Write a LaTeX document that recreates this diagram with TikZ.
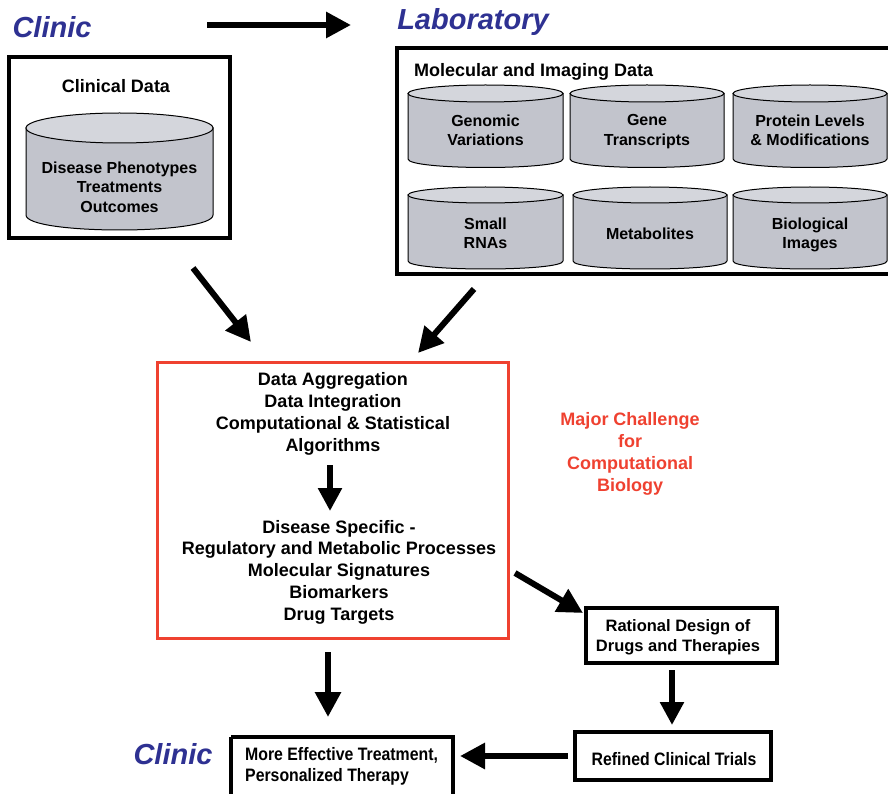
\documentclass[tikz,border=0pt]{standalone}
\usepackage{fontspec}
\setmainfont{Liberation Sans}
\newfontfamily\narrowfont[FakeStretch=0.88]{Liberation Sans}
\usetikzlibrary{arrows.meta}
\definecolor{clinblue}{HTML}{2E3192}
\definecolor{chalred}{HTML}{EF4130}
\definecolor{cylbody}{HTML}{C2C4CC}
\definecolor{cyltop}{HTML}{D4D6DC}
% cylinder: name, x1, x2, top-centre y, bottom-centre y, radius, text y, text
\newcommand{\dbcyl}[8]{%
  \draw[cylline, fill=cylbody] (#2,#4) -- (#2,#5)
    .. controls (#2,{#5+1.333*#6}) and (#3,{#5+1.333*#6}) .. (#3,#5) -- (#3,#4) -- cycle;
  \draw[cylline, fill=cyltop] ({(#2+#3)/2},#4) ellipse [x radius={(#3-#2)/2}, y radius=#6];
  \node[cyltext] (#1) at ({(#2+#3)/2},#7) {#8};
}
\begin{document}
\begin{tikzpicture}[x=1pt,y=-1pt,
  cylline/.style={draw=black, line width=1pt},
  cyltext/.style={font=\fontsize{16}{19.5}\selectfont\bfseries, align=center, inner sep=0pt},
  place/.style={font=\fontsize{29}{34}\selectfont\bfseries\itshape, text=clinblue, inner sep=0pt},
  title/.style={font=\fontsize{18}{22}\selectfont\bfseries, inner sep=0pt},
  redtext/.style={font=\fontsize{18}{21.8}\selectfont\bfseries, align=center, inner sep=0pt},
  boxtext/.style={font=\fontsize{16.5}{20}\selectfont\bfseries, align=center, inner sep=0pt},
  narrowtext/.style={font=\fontsize{18}{21}\selectfont\narrowfont\bfseries, align=left, inner sep=0pt},
  frame/.style={draw=black, line width=3.5pt, inner sep=0pt},
  bigarrow/.style={line width=6pt, -{Triangle[length=25pt,width=25pt]}}
]
\useasboundingbox (0,0) rectangle (888,794);

% places
\node[place] (clinictop) at (52,27) {Clinic};
\node[place] (lab) at (473,22) {Laboratory};
\node[place] (clinicbot) at (173,754) {Clinic};

% clinical data box
\draw[frame] (9,57) rectangle (230,238);
\node[title] (clintitle) at (116,86) {Clinical Data};
\dbcyl{clincyl}{26}{213}{128}{215}{15}{187}{Disease Phenotypes\\Treatments\\Outcomes}
\coordinate (clinbox) at (119.5,147.5);

% laboratory box
\draw[frame] (397,48) rectangle (895,274);
\node[title, anchor=west] (labtitle) at (414,72) {Molecular and Imaging Data};
\coordinate (labbox) at (642,161);
\dbcyl{genomic}{408}{563}{93.5}{159}{8.5}{130.5}{Genomic\\Variations}
\dbcyl{gene}{570}{724}{93.5}{159}{8.5}{131.5}{Gene\\Transcripts}
\dbcyl{protein}{733}{887}{93.5}{159}{8.5}{130.5}{Protein Levels\\\& Modifications}
\dbcyl{small}{408}{563}{195}{261}{8}{233.5}{Small\\RNAs}
\dbcyl{metab}{573}{727}{195}{261}{8}{234}{Metabolites}
\dbcyl{bioimg}{733}{887}{195}{261}{8}{235}{Biological\\Images}

% central red box
\draw[draw=chalred, line width=3pt] (157,362) rectangle (508,638);
\node[redtext] (integ) at (333,414) {Data Aggregation\\Data Integration\\Computational \& Statistical\\Algorithms};
\node[redtext] (results) at (339,572) {Disease Specific -\\Regulatory and Metabolic Processes\\Molecular Signatures\\Biomarkers\\Drug Targets};
\node[redtext, text=chalred] (challenge) at (630,454) {Major Challenge\\for\\Computational\\Biology};

% rational design box
\node[frame, minimum width=191pt, minimum height=55pt] (rational) at (681.5,635.5) {};
\node[boxtext] (rationaltext) at (678,637) {Rational Design of\\Drugs and Therapies};

% refined trials box
\node[frame, minimum width=196pt, minimum height=48pt] (refined) at (673,756) {};
\node[narrowtext] (refinedtext) at (674,759) {Refined Clinical Trials};

% more effective box
\draw[frame] (231,737) -- (231,800) (453,800) -- (453,737) -- (231,737);
\node[narrowtext, anchor=north west] (effective) at (245,747) {More Effective Treatment,\\Personalized Therapy};

% arrow end points
\coordinate (a1s) at (207,25);   \coordinate (a1e) at (351,25);
\coordinate (a2s) at (193,268);  \coordinate (a2e) at (251,342);
\coordinate (a3s) at (474,289);  \coordinate (a3e) at (418,353);
\coordinate (a4s) at (330,465);  \coordinate (a4e) at (330,511);
\coordinate (a5s) at (515,573);  \coordinate (a5e) at (583,613);
\coordinate (a6s) at (672,670);  \coordinate (a6e) at (672,725);
\coordinate (a7s) at (568,756);  \coordinate (a7e) at (460,756);
\coordinate (a8s) at (328,652);  \coordinate (a8e) at (328,717);

\draw[bigarrow] (a1s) -- (a1e);
\draw[bigarrow] (a2s) -- (a2e);
\draw[bigarrow] (a3s) -- (a3e);
\draw[line width=5.5pt, -{Triangle[length=23pt,width=23pt]}] (a4s) -- (a4e);
\draw[bigarrow] (a5s) -- (a5e);
\draw[line width=5.5pt, -{Triangle[length=23pt,width=23pt]}] (a6s) -- (a6e);
\draw[bigarrow] (a7s) -- (a7e);
\draw[bigarrow] (a8s) -- (a8e);
\end{tikzpicture}
\end{document}
